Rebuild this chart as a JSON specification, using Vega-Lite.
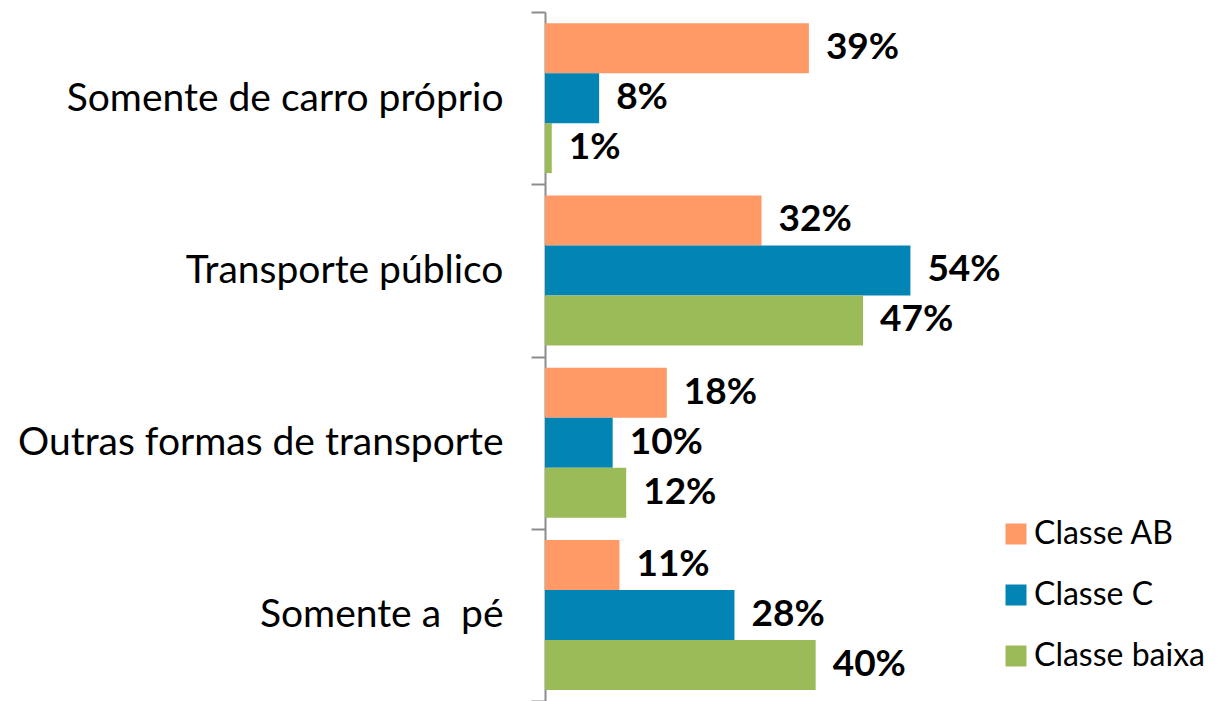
{
  "$schema": "https://vega.github.io/schema/vega-lite/v6.json",
  "autosize": "none",
  "padding": {"left": 545, "top": 12, "right": 266, "bottom": 0},
  "width": 406,
  "height": 689,
  "background": "white",
  "config": {"view": {"stroke": null}, "font": "Lato"},
  "data": {"values": [
    {"cat": "Somente de carro próprio", "serie": "Classe AB", "v": 0.39},
    {"cat": "Somente de carro próprio", "serie": "Classe C", "v": 0.08},
    {"cat": "Somente de carro próprio", "serie": "Classe baixa", "v": 0.01},
    {"cat": "Transporte público", "serie": "Classe AB", "v": 0.32},
    {"cat": "Transporte público", "serie": "Classe C", "v": 0.54},
    {"cat": "Transporte público", "serie": "Classe baixa", "v": 0.47},
    {"cat": "Outras formas de transporte", "serie": "Classe AB", "v": 0.18},
    {"cat": "Outras formas de transporte", "serie": "Classe C", "v": 0.10},
    {"cat": "Outras formas de transporte", "serie": "Classe baixa", "v": 0.12},
    {"cat": "Somente a \u00a0pé", "serie": "Classe AB", "v": 0.11},
    {"cat": "Somente a \u00a0pé", "serie": "Classe C", "v": 0.28},
    {"cat": "Somente a \u00a0pé", "serie": "Classe baixa", "v": 0.40}
  ]},
  "encoding": {
    "y": {
      "field": "cat", "type": "nominal",
      "sort": ["Somente de carro próprio", "Transporte público", "Outras formas de transporte", "Somente a \u00a0pé"],
      "scale": {"paddingInner": 0, "paddingOuter": 0},
      "axis": {
        "title": null, "labelFontSize": 39, "labelColor": "#000000", "labelLimit": 600,
        "tickSize": 14, "labelPadding": 28, "tickBand": "extent", "tickColor": "#8c8c8c", "tickWidth": 2,
        "domainColor": "#8c8c8c", "domainWidth": 2, "labelFont": "Lato"
      }
    },
    "yOffset": {"field": "serie", "type": "nominal", "sort": ["Classe AB", "Classe C", "Classe baixa"], "scale": {"paddingInner": 0, "paddingOuter": 0.2225}},
    "x": {"field": "v", "type": "quantitative", "scale": {"domain": [0, 0.6]}, "axis": null}
  },
  "layer": [
    {
      "mark": {"type": "bar"},
      "encoding": {
        "color": {
          "field": "serie", "type": "nominal",
          "scale": {"domain": ["Classe AB", "Classe C", "Classe baixa"], "range": ["#FF9966", "#0284B5", "#9BBB59"]},
          "legend": {
            "title": null, "orient": "none", "legendX": 455, "legendY": 506,
            "symbolType": "square", "symbolSize": 441, "symbolStrokeWidth": 0,
            "labelFontSize": 32, "labelFont": "Lato", "labelColor": "#000000", "rowPadding": 29, "labelOffset": 2, "labelLimit": 300
          }
        }
      }
    },
    {
      "mark": {"type": "text", "align": "left", "baseline": "middle", "dx": 17, "fontSize": 37, "fontWeight": "bold", "color": "#000000"},
      "encoding": {"text": {"field": "v", "type": "quantitative", "format": ".0%"}}
    }
  ]
}
